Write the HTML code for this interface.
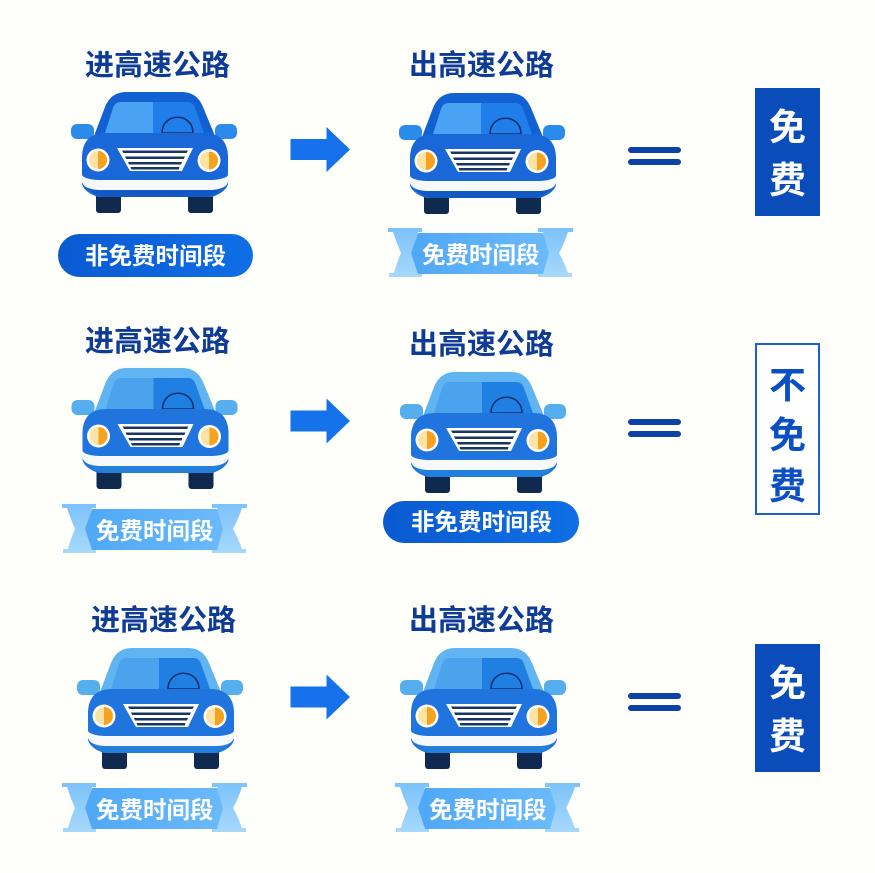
<!DOCTYPE html>
<html lang="zh"><head><meta charset="utf-8"><title>高速公路免费时段</title>
<style>
html,body{margin:0;padding:0;background:#fefefb}
svg{display:block}
text{font-family:"Liberation Sans","Noto Sans CJK SC",sans-serif}
.t{font-size:29px;font-weight:700;fill:#0d3b96}
.w{font-size:23.5px;font-weight:700;fill:#fff}
.b{font-size:37px;font-weight:700;text-anchor:middle}
.dark{--rooftop:#1261d2;--win1:#4aa2f5;--win2:#1f7eea;--body:#1a67d8;--low:#1259c4;--mir:#2a8bea}
.light{--rooftop:#5fb4f1;--win1:#4ba3ee;--win2:#1f7fe2;--body:#1f74de;--low:#2280dc;--mir:#55aeee}
</style></head><body>
<svg xmlns="http://www.w3.org/2000/svg" width="875" height="873" viewBox="0 0 875 873">
<defs>
<linearGradient id="rb" x1="0" y1="0" x2="1" y2="0"><stop offset="0" stop-color="#4fa8f6"/><stop offset="1" stop-color="#6bbafa"/></linearGradient>
<linearGradient id="cap" x1="0" y1="0" x2="0" y2="1"><stop offset="0" stop-color="#7cc2fa"/><stop offset="1" stop-color="#a6d8fb"/></linearGradient>
<linearGradient id="pill" x1="0" y1="0" x2="1" y2="0"><stop offset="0" stop-color="#0a5ad0"/><stop offset="1" stop-color="#0f6fe6"/></linearGradient>
<g id="car">
<rect x="26" y="98" width="25" height="23" rx="3" fill="#10294f"/>
<rect x="118" y="98" width="25" height="23" rx="3" fill="#10294f"/>
<rect x="1" y="32" width="23" height="15" rx="6" style="fill:var(--mir)"/>
<rect x="145" y="32" width="22" height="15" rx="6" style="fill:var(--mir)"/>
<path d="M24 44 L35 15 Q41 0 56 0 H112 Q127 0 133 15 L145 44 Z" style="fill:var(--rooftop)"/>
<path d="M35 41 L43 16 Q45 10 51 10 H83 V41 Z" style="fill:var(--win1)"/>
<path d="M83 10 H118 Q123 10 125 16 L134 41 H83 Z" style="fill:var(--win2)"/>
<path d="M92 41 C92 20 123 20 123 41 Z" style="fill:var(--win2)" stroke="#0d2f6b" stroke-width="1.6"/>
<path d="M12 64 Q13 41 36 41 H134 Q157 41 158 64 V92 Q156 100 142 105 H28 Q14 100 12 92 Z" style="fill:var(--body)"/>
<path d="M12 90 Q18 100 32 105 H138 Q152 100 158 90 Z" style="fill:var(--low)"/>
<path d="M12 83 Q14 87 28 88 H142 Q156 87 158 83 V90 Q156 97 142 98 H28 Q14 97 12 90 Z" fill="#f6f9fb"/>
<path d="M47 56 H123 L112 79 H60 Z" fill="#fff"/>
<path d="M52 58.500 H118 L116.500 61 H53.500 Z M55 64.500 H115 L113.800 67 H56.200 Z M58 70 H112 L111 72.500 H59 Z M60.500 75 H109.500 L108.800 77.500 H61.500 Z" fill="#1b3563"/>
<circle cx="28" cy="68" r="11.500" fill="#fff"/>
<circle cx="28" cy="68" r="9" fill="#fbe3a6"/>
<path d="M28 59 A9 9 0 0 1 28 77 Z" fill="#f5a21f"/>
<circle cx="139" cy="68.500" r="11.500" fill="#fff"/>
<circle cx="139" cy="68.500" r="9" fill="#fbe3a6"/>
<path d="M139 59.500 A9 9 0 0 1 139 77.500 Z" fill="#f5a21f"/>
</g>
<g id="rib">
<path d="M0 0 H34 V4 H30 Q26 18 23 25 Q26 34 30 45 H34 V49 H1 V45 H6 Q9 34 13 25 Q9 16 5 4 H0 Z" fill="url(#cap)"/>
<path d="M150 0 H185 V4 H180 Q176 16 171 25 Q176 34 180 45 H184 V49 H150 V45 H155 Q157 34 161 25 Q157 16 155 4 H150 Z" fill="url(#cap)"/>
<path d="M30 5 H155 L161 25 L155 46 H30 L23 25 Z" fill="url(#rb)"/>
</g>
<path id="ar" d="M0 12 H36 V0 L59.500 22.500 L36 45 V33 H0 Z" fill="#1572ea"/>
<g id="eq"><rect x="0" y="0" width="53" height="6" rx="3" fill="#0c41a6"/><rect x="0" y="12" width="53" height="6" rx="3" fill="#0c41a6"/></g>
</defs>
<rect width="875" height="873" fill="#fefefb"/>

<text class="t" x="85" y="75">进高速公路</text>
<text class="t" x="409" y="75">出高速公路</text>
<text class="t" x="85" y="351">进高速公路</text>
<text class="t" x="409" y="354">出高速公路</text>
<text class="t" x="91" y="630">进高速公路</text>
<text class="t" x="409" y="630">出高速公路</text>

<use href="#car" class="dark" x="70" y="92"/>
<use href="#car" class="dark" x="398" y="93"/>
<use href="#car" class="light" x="70.500" y="368"/>
<use href="#car" class="light" x="399" y="372"/>
<use href="#car" class="light" x="76" y="648"/>
<use href="#car" class="light" x="399" y="648"/>

<rect x="58" y="234" width="195" height="43" rx="21.500" fill="url(#pill)"/>
<text class="w" x="85" y="264">非免费时间段</text>
<rect x="383" y="501" width="196" height="42" rx="21" fill="url(#pill)"/>
<text class="w" x="411" y="530">非免费时间段</text>

<use href="#rib" x="388" y="228"/>
<text class="w" x="422" y="263">免费时间段</text>
<use href="#rib" x="62" y="504"/>
<text class="w" x="96" y="539">免费时间段</text>
<use href="#rib" x="62" y="783"/>
<text class="w" x="96" y="818">免费时间段</text>
<use href="#rib" x="395" y="783"/>
<text class="w" x="429" y="818">免费时间段</text>

<use href="#ar" x="290.500" y="127"/>
<use href="#ar" x="290.500" y="398.500"/>
<use href="#ar" x="290.500" y="674.500"/>

<use href="#eq" x="628" y="147"/>
<use href="#eq" x="628" y="419"/>
<use href="#eq" x="628" y="693"/>

<rect x="755" y="88" width="65" height="128" fill="#0b4cbb"/>
<text class="b" x="787.500" y="140" fill="#fff">免</text>
<text class="b" x="787.500" y="193" fill="#fff">费</text>

<rect x="756" y="344" width="63" height="170" fill="#fff" stroke="#1a62d2" stroke-width="2"/>
<text class="b" x="787.500" y="398" fill="#0b4fc4">不</text>
<text class="b" x="787.500" y="448" fill="#0b4fc4">免</text>
<text class="b" x="787.500" y="499" fill="#0b4fc4">费</text>

<rect x="755" y="644" width="65" height="128" fill="#0b4cbb"/>
<text class="b" x="787.500" y="696" fill="#fff">免</text>
<text class="b" x="787.500" y="749" fill="#fff">费</text>
</svg>
</body></html>
